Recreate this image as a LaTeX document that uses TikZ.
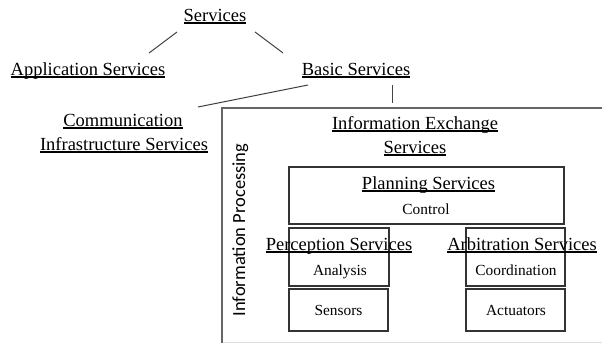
\documentclass[tikz,border=0pt]{standalone}
\usepackage{fontspec}
\setmainfont{Liberation Serif}
\newfontfamily\procfont{Carlito}
% underline at a fixed depth below the baseline
\newcommand\undl[1]{\setbox0\hbox{#1}\rlap{\rule[-0.14em]{\wd0}{0.06em}}\box0}
\definecolor{linegray}{HTML}{444444}
\definecolor{framegray}{HTML}{666666}
\definecolor{edgegray}{HTML}{DDDDDD}
\tikzset{
  big/.style={inner sep=0pt, anchor=base, font=\fontsize{18.5pt}{24pt}\selectfont},
  small/.style={inner sep=0pt, anchor=base, font=\fontsize{15.4pt}{18pt}\selectfont},
  link/.style={draw=linegray, line width=1pt},
  boxed/.style={draw=black!80, line width=1.1pt, rectangle, inner sep=0pt},
  frame/.style={draw=framegray, line width=1.3pt}
}
\begin{document}
\begin{tikzpicture}[x=1pt, y=-1pt]
\useasboundingbox (0,0) rectangle (602,343);
\fill[white] (0,0) rectangle (602,343);

% hierarchy labels
\node[big] (serv)  at (215,21)  {\undl{Services}};
\node[big] (app)   at (88,75)   {\undl{Application Services}};
\node[big] (basic) at (356,75)  {\undl{Basic Services}};
\node[big] (comm)  at (123,126) {\undl{Communication}};
\node[big] (comm2) at (124,150) {\undl{Infrastructure Services}};

% connector ends
\coordinate (sl) at (177,32);
\coordinate (al) at (149,53);
\coordinate (sr) at (255,32);
\coordinate (br) at (283,53);
\coordinate (bl) at (308,85);
\coordinate (cl) at (198,107);
\coordinate (bv) at (392,85);
\coordinate (fv) at (392,103);
\draw[link] (sl) -- (al);
\draw[link] (sr) -- (br);
\draw[link] (bl) -- (cl);
\draw[link] (bv) -- (fv);

% information processing frame
\draw[edgegray, line width=1pt] (222,342.5) -- (602,342.5);
\draw[frame] (222,343) -- (222,108) -- (602,108);
\node[inner sep=0pt, anchor=base, rotate=90, font=\procfont\fontsize{18.5pt}{22pt}\selectfont]
  (proc) at (245,230) {Information Processing};

\node[big] (iex)  at (415,129) {\undl{Information Exchange}};
\node[big] (iex2) at (415,153) {\undl{Services}};

% service boxes
\node[boxed, minimum width=275pt, minimum height=57pt] (plan) at (426.5,195.5) {};
\node[boxed, minimum width=100pt, minimum height=58pt] (ana)  at (339,257) {};
\node[boxed, minimum width=99pt,  minimum height=42pt] (sens) at (338.5,310) {};
\node[boxed, minimum width=99pt,  minimum height=58pt] (coo)  at (515.5,257) {};
\node[boxed, minimum width=99pt,  minimum height=42pt] (act)  at (515.5,310) {};

\node[big]   (plant) at (428.5,189) {\undl{Planning Services}};
\node[small] (ctrl)  at (426,214)   {Control};
\node[big]   (perc)  at (339,250)   {\undl{Perception Services}};
\node[big]   (arb)   at (522,250)   {\undl{Arbitration Services}};
\node[small] (anat)  at (340,275)   {Analysis};
\node[small] (coot)  at (516,275)   {Coordination};
\node[small] (senst) at (338.5,315) {Sensors};
\node[small] (actt)  at (516,315)   {Actuators};
\end{tikzpicture}
\end{document}
